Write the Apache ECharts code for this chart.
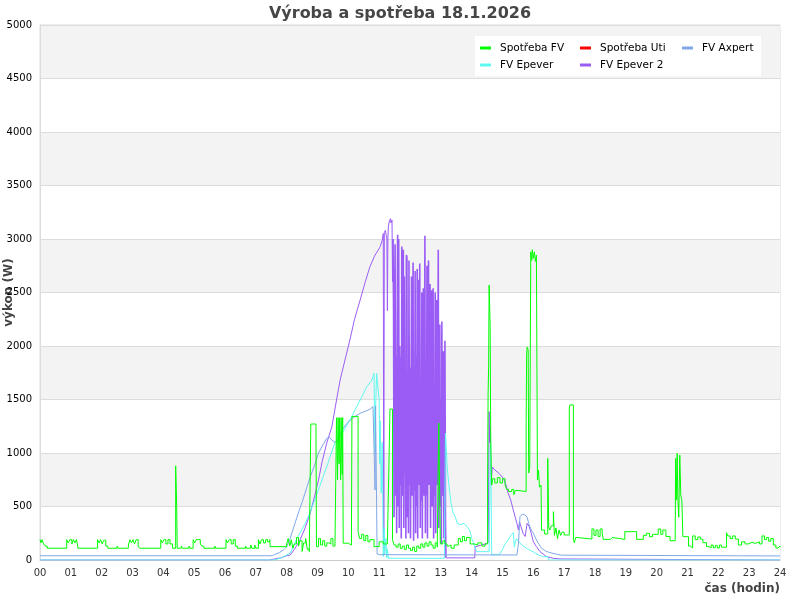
<!DOCTYPE html>
<html><head><meta charset="utf-8">
<script src="https://cdn.jsdelivr.net/npm/echarts@6/dist/echarts.min.js"></script>
<style>html,body{margin:0;padding:0;background:#fff}#c{width:800px;height:600px}</style>
</head><body><div id="c"></div>
<script>
// x = minutes from midnight, y = W
const hourLabels = ['00','01','02','03','04','05','06','07','08','09','10','11','12','13','14','15','16','17','18','19','20','21','22','23','24'];
const seriesNames = ['Spotřeba FV','Spotřeba Uti','FV Axpert','FV Epever','FV Epever 2'];
const seriesColors = ['#00ff00','#ff0000','#80a8e8','#5ff8f0','#9b5cf6'];

const spotrebaFV = [
[0,190],[2,160],[4,190],[7,150],[10,130],[14,110],[52,190],[55,160],[58,190],[62,150],[65,190],[68,160],[71,190],[74,110],
[112,190],[115,160],[118,190],[121,150],[124,185],[128,130],[132,110],[150,130],[152,110],[172,140],[175,190],[178,160],[181,190],
[184,150],[187,190],[191,130],[194,110],[235,190],[238,160],[241,190],[245,150],[249,190],[253,150],[258,110],[264,880],[266,500],
[267,110],[275,130],[277,110],[290,130],[292,110],[298,190],[301,160],[304,190],[308,190],[312,150],[315,130],[319,110],[340,130],
[342,110],[362,190],[365,160],[368,190],[372,150],[376,190],[380,130],[384,110],[400,130],[402,110],[410,140],[412,110],[418,140],
[420,110],[425,190],[428,150],[431,190],[435,160],[439,190],[443,170],[447,190],[448,125],[480,150],[483,200],[486,130],[489,190],
[492,110],[495,150],[499,210],[503,130],[506,180],[510,80],[513,160],[517,200],[520,100],[524,78],[527,1271],[537,1250],[538,125],
[542,200],[546,140],[550,180],[554,130],[558,160],[562,150],[566,200],[570,130],[574,150],[577,1330],[579,750],[580,1330],[582,900],
[583,1330],[585,750],[586,1330],[588,800],[589,1330],[590,157],[600,140],[606,157],[607,1340],[619,265],[622,200],[626,240],[630,180],
[634,230],[638,170],[642,190],[650,125],[660,170],[668,150],[676,170],[679,888],[681,1410],[686,190],[689,140],[693,120],[697,150],
[701,110],[705,130],[709,100],[713,140],[717,110],[721,90],[725,120],[729,80],[733,130],[737,110],[741,150],[745,120],[749,160],
[753,130],[757,170],[761,140],[765,110],[769,160],[773,120],[776,1280],[779,150],[784,180],[788,150],[792,130],[796,140],[800,110],
[806,140],[814,200],[818,170],[822,220],[826,180],[830,210],[837,150],[845,140],[852,160],[860,130],[866,150],[871,748],[872,1560],
[873,1820],[874,2570],[876,2180],[877,1200],[878,870],[879,700],[881,760],[885,720],[890,770],[895,720],[900,760],[905,700],[908,660],
[912,640],[918,660],[922,610],[925,650],[930,640],[946,1277],[947,1930],[948,1990],[950,1960],[951,813],[953,870],[955,2880],[957,2800],
[958,2900],[960,2820],[962,2880],[964,2790],[966,2850],[968,748],[970,840],[972,680],[975,700],[976,280],[982,243],[988,950],[990,300],
[992,280],[995,320],[999,452],[1001,230],[1004,300],[1007,200],[1010,280],[1013,230],[1016,260],[1020,234],[1030,1418],[1031,1449],
[1038,190],[1040,160],[1042,210],[1046,196],[1074,290],[1078,230],[1082,280],[1086,220],[1090,290],[1094,250],[1096,193],[1110,210],
[1114,193],[1138,265],[1161,193],[1174,230],[1180,250],[1186,218],[1192,240],[1203,290],[1208,240],[1212,280],[1218,220],[1226,180],
[1236,170],[1237,950],[1238,560],[1240,997],[1241,600],[1243,400],[1245,980],[1247,598],[1249,560],[1251,218],[1262,130],[1266,112],
[1270,225],[1275,190],[1280,215],[1285,195],[1290,162],[1297,125],[1302,112],[1306,140],[1310,115],[1314,135],[1318,112],[1322,140],
[1326,120],[1336,255],[1338,225],[1343,200],[1348,225],[1353,196],[1359,140],[1365,170],[1372,150],[1378,165],[1386,155],[1392,170],
[1400,150],[1405,225],[1410,190],[1414,210],[1418,175],[1422,200],[1427,140],[1432,112],[1436,130],[1440,120]
];

const spotrebaUti = [];

const fvAxpert = [
[0,40],[452,40],[456,50],[466,70],[474,95],[480,125],[486,190],[492,280],[500,400],[510,540],[520,690],[526,779],[534,880],
[542,1000],[551,1080],[558,1137],[563,1150],[568,1120],[574,1100],[578,1110],[584,1180],[590,1230],[597,1277],[605,1310],
[612,1340],[623,1371],[633,1390],[642,1408],[648,1433],[651,1440],[652,654],[653,1440],[655,1450],[656,56],[660,50],
[928,47],[931,150],[934,405],[939,430],[944,420],[948,400],[951,343],[955,290],[960,250],[966,187],[975,115],[985,80],
[998,62],[1015,45],[1440,38]
];

const fvEpever = [
[0,0],[456,0],[470,20],[487,65],[500,200],[516,343],[526,450],[544,685],[560,900],[574,1100],[584,1152],[603,1308],[623,1495],
[636,1620],[646,1682],[650,1745],[651,1300],[652,1000],[653,1400],[655,1745],[658,1745],[660,1495],[661,900],[662,1300],[664,626],
[666,1100],[668,31],[670,300],[671,60],[673,200],[675,20],[676,100],[678,16],[787,16],[789,1184],[790,1100],[792,900],[794,780],
[797,640],[800,530],[804,440],[808,405],[812,343],[818,330],[825,343],[831,311],[836,280],[838,250],[840,200],[843,170],[846,120],
[850,78],[874,78],[875,500],[876,1059],[877,1090],[878,560],[879,47],[895,55],[900,100],[905,150],[911,187],[916,230],[921,255],
[923,120],[925,170],[927,200],[932,170],[940,130],[950,100],[955,90],[965,60],[973,40],[980,31],[988,31],[990,0],[1440,0]
];

const fvEpever2 = [
[0,0],[446,0],[448,10],[468,20],[480,40],[487,47],[495,100],[506,187],[516,300],[526,440],[534,590],[542,747],[549,920],[558,1093],
[568,1246],[577,1495],[584,1682],[594,1880],[603,2056],[612,2250],[623,2430],[633,2600],[642,2741],[651,2840],[662,2928],[666,2990],
[668,3050],[669,50],[670,3060],[672,3080],[675,3000],[676,2330],[677,3000],[678,3120],[680,3170],[682,3190],[683,3150],[685,3178],
[686,2600],[687,3000],
[688,2300],[689,400],[690,2340],[691,2950],[692,600],[693,1900],[694,250],[695,2200],[696,3040],[697,500],[698,3000],[699,300],
[700,2000],[701,700],[702,1900],[703,200],[704,2930],[705,600],[706,1700],[707,2900],[708,300],[709,2650],[710,800],[711,1500],
[712,200],[713,2850],[714,2830],[715,400],[716,1600],[717,250],[718,2800],[719,700],[720,1800],[721,200],[722,1500],[723,2650],
[724,600],[725,1700],[726,2780],[727,180],[728,1400],[729,650],[730,2700],[731,250],[732,1900],[733,500],[734,2720],[735,200],
[736,2620],[737,700],[738,1500],[739,2770],[740,300],[741,1600],[742,550],[743,2500],[744,200],[745,1800],[746,2540],[747,600],
[748,1400],[749,3030],[750,250],[751,1700],[752,600],[753,2750],[754,200],[755,1500],[756,2800],[757,700],[758,1600],[759,2580],
[760,300],[761,1450],[762,2520],[763,500],[764,1700],[765,2540],[766,200],[767,1500],[768,600],[769,2500],[770,250],[771,1400],
[772,2430],[773,700],[774,1600],[775,2900],[776,300],[777,1350],[778,2200],[779,500],[780,1500],[781,150],[782,2230],[783,600],
[784,1300],[785,1950],[786,200],[787,1200],[788,2050],[789,400],[790,20],
[846,20],[847,125],[860,140],[872,160],[873,700],[874,1386],[875,1100],[876,1250],[877,935],[878,700],[880,870],[885,841],
[891,820],[895,800],[902,760],[907,700],[911,623],[916,561],[921,467],[928,343],[931,280],[933,358],[936,311],[940,250],[944,220],
[948,343],[952,311],[956,249],[960,170],[966,125],[973,78],[986,31],[1000,15],[1012,10],[1013,0],[1440,0]
];

const yTicks = {min:0, max:5000, step:500};
// the fast on/off regulation period of FV Epever 2 (minutes) is drawn as steps
const epever2StepWindow = [687, 790];

const font = 'DejaVu Sans';
const chart = echarts.init(document.getElementById('c'), null, {renderer:'canvas'});

function lineSeries(name, color, data, step, z, w){
  return { name:name, type:'line', data:data, color:color, showSymbol:false, symbol:'none',
    step:step, connectNulls:false, sampling:'none', clip:true,
    lineStyle:{width:w || 1, color:color, join:'bevel'}, emphasis:{disabled:true}, animation:false, z:z };
}
const e2a = epever2StepWindow[0], e2b = epever2StepWindow[1];
const epever2Smooth = fvEpever2.filter(p => p[0] <= e2a).concat([[e2a + 1, null]], fvEpever2.filter(p => p[0] >= e2b));
const epever2Osc = fvEpever2.filter(p => p[0] >= e2a && p[0] <= e2b);

const series = [
  lineSeries(seriesNames[4], seriesColors[4], epever2Smooth, false, 2),
  lineSeries(seriesNames[4], seriesColors[4], epever2Osc, 'end', 2, 1.6),
  lineSeries(seriesNames[3], seriesColors[3], fvEpever, false, 3),
  lineSeries(seriesNames[2], seriesColors[2], fvAxpert, false, 4),
  lineSeries(seriesNames[1], seriesColors[1], spotrebaUti, false, 5),
  lineSeries(seriesNames[0], seriesColors[0], spotrebaFV, 'end', 6)
];

function legendCol(left, names){
  return {
    orient:'vertical', left:left, top:39.5, padding:0, itemGap:0,
    itemWidth:11, itemHeight:3, icon:'rect', data:names, selectedMode:false,
    textStyle:{fontFamily:font, fontSize:10.5, color:'#000', lineHeight:17, padding:[0,0,0,4]}
  };
}

chart.setOption({
  animation:false,
  backgroundColor:'#fff',
  title:{ text:'Výroba a spotřeba 18.1.2026', left:'center', top:1,
    textStyle:{fontFamily:font, fontSize:16, fontWeight:'bold', color:'#464646'} },
  graphic:[{type:'rect', left:475, top:36, shape:{width:286, height:40}, style:{fill:'#fff'}, z:3, silent:true}],
  legend:[ legendCol(480, ['Spotřeba FV','FV Epever']), legendCol(580, ['Spotřeba Uti','FV Epever 2']), legendCol(682, ['FV Axpert']) ],
  grid:{left:40, right:20, top:25, bottom:40, show:true, borderColor:'#dcdcdc', borderWidth:1, containLabel:false, outerBoundsMode:'none'},
  xAxis:{ type:'value', min:0, max:1440, interval:60,
    name:'čas (hodin)', nameLocation:'end', nameGap:0, nameMoveOverlap:false,
    nameTextStyle:{fontFamily:font, fontSize:12, fontWeight:'bold', color:'#444', align:'right', verticalAlign:'top', padding:[23,0,0,0]},
    axisLine:{show:true, lineStyle:{color:'#cccccc'}}, axisTick:{show:false},
    axisLabel:{fontFamily:font, fontSize:10, color:'#333', margin:8, formatter:v=>hourLabels[Math.round(v/60)]},
    splitLine:{show:false} },
  yAxis:{ type:'value', min:yTicks.min, max:yTicks.max, interval:yTicks.step,
    name:'výkon (W)', nameLocation:'middle', nameGap:25, nameRotate:90, nameMoveOverlap:false,
    nameTextStyle:{fontFamily:font, fontSize:12, fontWeight:'bold', color:'#444'},
    axisLine:{show:true, lineStyle:{color:'#dcdcdc'}}, axisTick:{show:false},
    axisLabel:{fontFamily:font, fontSize:10, color:'#000', margin:8, formatter:v=>String(v)},
    splitLine:{show:true, lineStyle:{color:'#dcdcdc'}},
    splitArea:{show:true, areaStyle:{color:['#ffffff','#f3f3f3']}} },
  series: series
});
</script></body></html>
